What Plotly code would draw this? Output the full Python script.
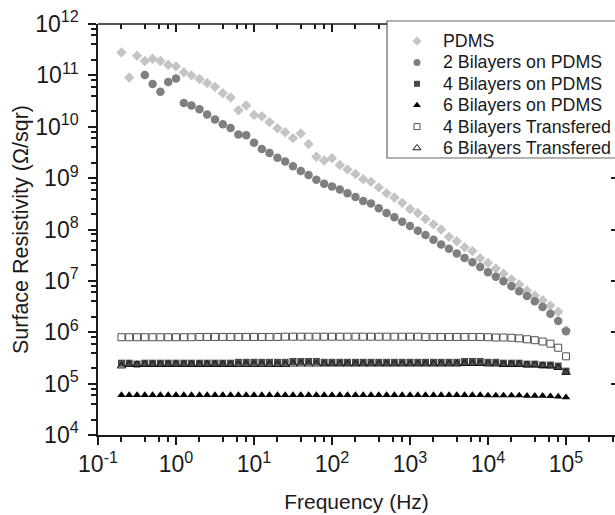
import plotly.graph_objects as go

# ---------------- data ----------------
freq = [0.2, 0.251, 0.316, 0.398, 0.501, 0.631, 0.794,
        1.0, 1.26, 1.58, 2.0, 2.51, 3.16, 3.98, 5.01, 6.31, 7.94,
        10, 12.6, 15.8, 20, 25.1, 31.6, 39.8, 50.1, 63.1, 79.4,
        100, 126, 158, 200, 251, 316, 398, 501, 631, 794,
        1000, 1260, 1580, 2000, 2510, 3160, 3980, 5010, 6310, 7940,
        10000, 12600, 15800, 20000, 25100, 31600, 39800, 50100, 63100, 79400,
        100000]

pdms = [2.8e11, 9.1e10, 2.4e11, 1.9e11, 2.1e11, 1.9e11, 1.6e11, 1.5e11, 1.15e11, 1.0e11,
        8.5e10, 7.1e10, 6.0e10, 4.5e10, 3.7e10, 2.1e10, 2.6e10, 1.7e10, 1.6e10, 1.23e10,
        9.3e9, 7.8e9, 6.0e9, 7.4e9, 4.6e9, 2.6e9, 2.2e9, 2.45e9, 1.8e9, 1.48e9,
        1.2e9, 9.5e8, 8.5e8, 6.6e8, 5.1e8, 4.2e8, 3.3e8, 2.5e8, 2.1e8, 1.6e8,
        1.26e8, 1.0e8, 7.2e7, 5.9e7, 4.5e7, 3.8e7, 2.75e7, 2.24e7, 1.74e7, 1.38e7,
        1.07e7, 8.5e6, 6.5e6, 5.2e6, 4.2e6, 3.3e6, 2.5e6, 1.1e6]

# 2 bilayers: measured from 0.4 Hz upward
freq_bil2 = freq[3:]
bil2 = [1.02e11, 6.8e10, 4.8e10, 7.4e10, 8.7e10, 2.9e10, 2.6e10,
        2.2e10, 1.74e10, 1.38e10, 1.12e10, 9.5e9, 7.1e9, 6.8e9, 4.9e9, 3.7e9, 3.1e9,
        2.5e9, 2.1e9, 1.7e9, 1.38e9, 1.15e9, 9.3e8, 7.8e8, 6.9e8, 6.0e8, 5.1e8,
        4.3e8, 3.6e8, 3.2e8, 2.6e8, 2.1e8, 1.74e8, 1.41e8, 1.17e8, 9.5e7, 7.8e7,
        6.3e7, 5.1e7, 4.2e7, 3.4e7, 2.8e7, 2.3e7, 1.86e7, 1.48e7, 1.2e7, 9.8e6,
        7.9e6, 6.3e6, 5.1e6, 4.0e6, 3.1e6, 2.3e6, 1.66e6, 1.05e6]

bil4 = [2.5e5, 2.5e5, 2.4e5, 2.5e5, 2.5e5, 2.5e5, 2.5e5, 2.5e5, 2.5e5, 2.5e5,
        2.5e5, 2.5e5, 2.5e5, 2.5e5, 2.5e5, 2.6e5, 2.6e5, 2.6e5, 2.6e5, 2.6e5,
        2.6e5, 2.6e5, 2.7e5, 2.7e5, 2.7e5, 2.7e5, 2.6e5, 2.6e5, 2.6e5, 2.6e5,
        2.6e5, 2.6e5, 2.6e5, 2.6e5, 2.6e5, 2.6e5, 2.6e5, 2.6e5, 2.6e5, 2.6e5,
        2.6e5, 2.6e5, 2.6e5, 2.6e5, 2.7e5, 2.7e5, 2.7e5, 2.6e5, 2.6e5, 2.5e5,
        2.5e5, 2.5e5, 2.4e5, 2.4e5, 2.3e5, 2.3e5, 2.2e5, 1.75e5]

bil6 = [6.0e4, 6.0e4, 6.0e4, 6.0e4, 6.0e4, 6.0e4, 6.0e4, 6.0e4, 6.0e4, 6.0e4,
        6.0e4, 6.0e4, 6.0e4, 6.0e4, 6.0e4, 6.0e4, 6.0e4, 6.0e4, 6.0e4, 6.0e4,
        6.0e4, 6.0e4, 6.0e4, 6.0e4, 6.0e4, 6.0e4, 6.0e4, 6.0e4, 6.0e4, 6.0e4,
        6.0e4, 6.0e4, 6.0e4, 6.0e4, 6.0e4, 6.0e4, 6.0e4, 6.0e4, 6.0e4, 6.0e4,
        6.0e4, 6.0e4, 6.0e4, 6.0e4, 6.0e4, 6.0e4, 6.0e4, 5.9e4, 5.9e4, 5.9e4,
        5.9e4, 5.9e4, 5.8e4, 5.8e4, 5.8e4, 5.7e4, 5.6e4, 5.4e4]

bil4_tr = [8.0e5, 8.0e5, 8.0e5, 8.0e5, 8.0e5, 8.0e5, 8.0e5, 8.0e5, 8.0e5, 8.0e5,
           8.1e5, 8.1e5, 8.1e5, 8.1e5, 8.1e5, 8.1e5, 8.1e5, 8.1e5, 8.1e5, 8.1e5,
           8.1e5, 8.2e5, 8.2e5, 8.2e5, 8.2e5, 8.2e5, 8.2e5, 8.2e5, 8.2e5, 8.2e5,
           8.2e5, 8.2e5, 8.2e5, 8.2e5, 8.2e5, 8.2e5, 8.2e5, 8.2e5, 8.2e5, 8.1e5,
           8.1e5, 8.1e5, 8.1e5, 8.1e5, 8.1e5, 8.1e5, 8.1e5, 8.0e5, 7.9e5, 7.9e5,
           7.8e5, 7.6e5, 7.3e5, 7.0e5, 6.6e5, 6.0e5, 5.0e5, 3.4e5]

bil6_tr = [2.2e5, 2.35e5, 2.35e5, 2.35e5, 2.35e5, 2.35e5, 2.35e5, 2.35e5, 2.35e5, 2.35e5,
           2.35e5, 2.35e5, 2.35e5, 2.35e5, 2.35e5, 2.35e5, 2.35e5, 2.35e5, 2.35e5, 2.35e5,
           2.35e5, 2.35e5, 2.4e5, 2.4e5, 2.4e5, 2.4e5, 2.4e5, 2.4e5, 2.4e5, 2.4e5,
           2.4e5, 2.4e5, 2.4e5, 2.4e5, 2.4e5, 2.4e5, 2.4e5, 2.4e5, 2.4e5, 2.4e5,
           2.4e5, 2.4e5, 2.4e5, 2.4e5, 2.45e5, 2.45e5, 2.45e5, 2.4e5, 2.4e5, 2.35e5,
           2.35e5, 2.35e5, 2.3e5, 2.3e5, 2.25e5, 2.2e5, 2.05e5, 1.65e5]

x_tick_exp = [-1, 0, 1, 2, 3, 4, 5]
y_tick_exp = [4, 5, 6, 7, 8, 9, 10, 11, 12]

names = ["PDMS", "2 Bilayers on PDMS", "4 Bilayers on PDMS", "6 Bilayers on PDMS",
         "4 Bilayers Transfered", "6 Bilayers Transfered"]

# ---------------- style ----------------
FONT = "Liberation Sans, Arial, Helvetica, sans-serif"
INK = "#1a1a1a"
W, H = 615, 515
ML, MR, MT, MB = 98, 0, 24, 80
PW, PH = W - ML - MR, H - MT - MB
PX_PER_DEC = 78.0
X_RANGE = [-1, -1 + PW / PX_PER_DEC]
Y_RANGE = [4, 12]

styles = [
    dict(symbol="diamond", size=8, color="#c4c4c4", line=dict(width=0)),
    dict(symbol="circle", size=8.5, color="#7f7f7f", line=dict(width=0)),
    dict(symbol="square", size=7, color="#4a4a4a", line=dict(width=0)),
    dict(symbol="triangle-up", size=7.5, color="#000000", line=dict(width=0)),
    dict(symbol="square-open", size=7, color="#505050", line=dict(width=1, color="#505050")),
    dict(symbol="triangle-up-open", size=7.5, color="#111111", line=dict(width=1, color="#111111")),
]
legend_styles = [
    dict(symbol="diamond", size=7, color="#c4c4c4"),
    dict(symbol="circle", size=7, color="#7f7f7f"),
    dict(symbol="square", size=6, color="#4a4a4a"),
    dict(symbol="triangle-up", size=7, color="#000000"),
    dict(symbol="square-open", size=6, color="#505050", line=dict(width=1, color="#505050")),
    dict(symbol="triangle-up-open", size=7, color="#111111", line=dict(width=1, color="#111111")),
]

series = [(freq, pdms), (freq_bil2, bil2), (freq, bil4), (freq, bil6),
          (freq, bil4_tr), (freq, bil6_tr)]

fig = go.Figure()
for (xs, ys), name, st in zip(series, names, styles):
    fig.add_trace(go.Scatter(x=xs, y=ys, mode="markers", name=name,
                             marker=st, showlegend=False, cliponaxis=False))

# dummy trace for the top/right frame axes
fig.add_trace(go.Scatter(x=[None], y=[None], xaxis="x2", yaxis="y2",
                         showlegend=False, hoverinfo="skip"))

# ---------------- custom legend (box, markers, text) ----------------
def px_to_paper_x(px):
    return (px - ML) / PW

def px_to_paper_y(py):
    return (MT + PH - py) / PH

LEG_LEFT, LEG_TOP, LEG_BOTTOM = 387, 21, 158
LEG_MARK_X, LEG_TEXT_X = 417, 441
LEG_ROW0, LEG_ROW_STEP = 41, 21.4

for i, (name, st) in enumerate(zip(names, legend_styles)):
    yy = px_to_paper_y(LEG_ROW0 + i * LEG_ROW_STEP)
    fig.add_trace(go.Scatter(x=[px_to_paper_x(LEG_MARK_X)], y=[yy], mode="markers",
                             marker=st, xaxis="x3", yaxis="y3", showlegend=False,
                             hoverinfo="skip", cliponaxis=False))
    fig.add_annotation(x=px_to_paper_x(LEG_TEXT_X), y=yy, xref="paper", yref="paper",
                       text=name, showarrow=False, xanchor="left", yanchor="middle",
                       font=dict(family=FONT, size=17.8, color=INK))

fig.add_shape(type="rect", xref="paper", yref="paper", layer="below",
              x0=px_to_paper_x(LEG_LEFT), x1=1.1,
              y0=px_to_paper_y(LEG_BOTTOM), y1=px_to_paper_y(LEG_TOP),
              line=dict(color="#666666", width=1.2), fillcolor="white")
# top frame line up to the legend box
fig.add_shape(type="line", xref="paper", yref="paper", layer="above",
              x0=0, x1=px_to_paper_x(LEG_LEFT), y0=1, y1=1,
              line=dict(color=INK, width=1.5))

# ---------------- axes ----------------
x_major = [10.0 ** e for e in x_tick_exp]
x_text = ["10<sup>%d</sup>" % e for e in x_tick_exp]
x_minor = [m * 10.0 ** e for e in x_tick_exp for m in (2, 4, 6, 8)]
y_major = [10.0 ** e for e in y_tick_exp]
y_text = ["10<sup>%d</sup>" % e for e in y_tick_exp]
y_minor = [m * 10.0 ** e for e in y_tick_exp[:-1] for m in (2, 4, 6, 8)]

# frame ticks hidden where the legend box covers the top/right frame
leg_left_val = 10 ** (X_RANGE[0] + (LEG_LEFT - ML) / PX_PER_DEC)
leg_bottom_val = 10 ** (Y_RANGE[1] - (LEG_BOTTOM - MT) / PH * (Y_RANGE[1] - Y_RANGE[0]))
top_major = [v for v in x_major if v < leg_left_val]
top_minor = [v for v in x_minor if v < leg_left_val]
right_major = [v for v in y_major if v < leg_bottom_val]

axis_common = dict(type="log", showgrid=False, zeroline=False, linecolor=INK,
                   linewidth=1.5, tickcolor=INK, tickwidth=1.5)

fig.update_layout(
    width=W, height=H,
    margin=dict(l=ML, r=MR, t=MT, b=MB, autoexpand=False),
    paper_bgcolor="white", plot_bgcolor="white",
    font=dict(family=FONT, color=INK),
    showlegend=False,
    xaxis=dict(**axis_common, range=X_RANGE, showline=True, ticks="outside", ticklen=8,
               tickmode="array", tickvals=x_major, ticktext=x_text,
               tickfont=dict(family=FONT, size=23, color=INK),
               minor=dict(tickvals=x_minor, ticks="outside", ticklen=5,
                          tickcolor=INK, tickwidth=1.5),
               title=dict(text="Frequency (Hz)", font=dict(family=FONT, size=21, color=INK),
                          standoff=18)),
    yaxis=dict(**axis_common, range=Y_RANGE, showline=True, ticks="outside", ticklen=8,
               tickmode="array", tickvals=y_major, ticktext=y_text, ticklabelstandoff=5,
               tickfont=dict(family=FONT, size=23, color=INK),
               minor=dict(tickvals=y_minor, ticks="outside", ticklen=5,
                          tickcolor=INK, tickwidth=1.5),
               title=dict(text="Surface Resistivity (Ω/sqr)",
                          font=dict(family=FONT, size=21.5, color=INK), standoff=1)),
    xaxis2=dict(**axis_common, range=X_RANGE, overlaying="x", side="top", anchor="y",
                showline=False, ticks="inside", ticklen=8, showticklabels=False,
                tickmode="array", tickvals=top_major,
                minor=dict(tickvals=top_minor, ticks="inside", ticklen=5,
                           tickcolor=INK, tickwidth=1.5)),
    yaxis2=dict(**axis_common, range=Y_RANGE, overlaying="y", side="right", anchor="x",
                showline=False, ticks="inside", ticklen=4, showticklabels=False,
                tickmode="array", tickvals=right_major),
    xaxis3=dict(range=[0, 1], overlaying="x", visible=False, fixedrange=True),
    yaxis3=dict(range=[0, 1], overlaying="y", visible=False, fixedrange=True),
)

# remove the browser's default 8px page margin so the figure sits at the window origin
fig.write_html("out.html", config={"displayModeBar": False},
               post_script="document.body.style.margin='0px';document.body.style.overflow='hidden';")
